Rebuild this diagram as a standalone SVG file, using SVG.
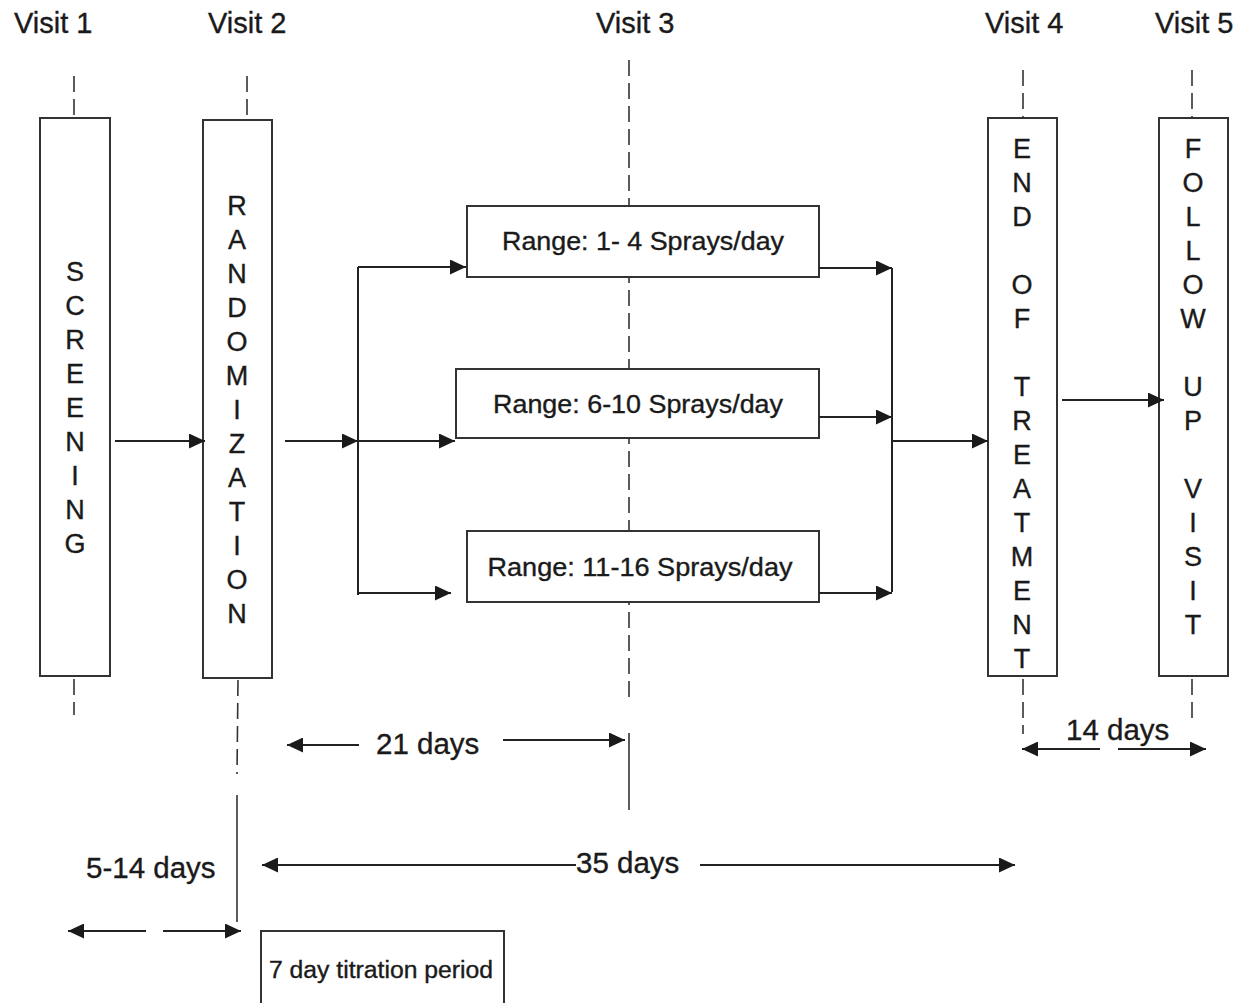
<svg xmlns="http://www.w3.org/2000/svg" width="1240" height="1003" viewBox="0 0 1240 1003">
<defs>
<marker id="ah" markerUnits="userSpaceOnUse" markerWidth="17" markerHeight="15" refX="16" refY="7.5" orient="auto">
<path d="M0,0 L16,7.5 L0,15 z" fill="#1a1a1a"/>
</marker>
<style>
text{font-family:"Liberation Sans",Arial,sans-serif;fill:#1a1a1a;stroke:#1a1a1a;stroke-width:0.35}
.visit{font-size:29px}
.vl{font-size:27px;text-anchor:middle}
.rng{font-size:25px;text-anchor:middle}
.dim{font-size:29.5px}
.box{fill:#fff;stroke:#333;stroke-width:2}
.dash{stroke:#333;stroke-width:1.6;stroke-dasharray:16 7;fill:none}
.solid{stroke:#333;stroke-width:1.6;fill:none}
.arr{stroke:#222;stroke-width:2.2;fill:none;marker-end:url(#ah)}
.ln{stroke:#222;stroke-width:2;fill:none}
</style>
</defs>
<rect width="1240" height="1003" fill="#fff"/>

<g id="visit-labels">
<text class="visit" x="14" y="33">Visit 1</text>
<text class="visit" x="208" y="33">Visit 2</text>
<text class="visit" x="596" y="33">Visit 3</text>
<text class="visit" x="985" y="33">Visit 4</text>
<text class="visit" x="1155" y="33">Visit 5</text>
</g>

<g id="timelines">
<line class="dash" x1="74" y1="76" x2="74" y2="117"/>
<line class="dash" x1="74" y1="679" x2="74" y2="715"/>
<line class="dash" x1="247" y1="76" x2="247" y2="119"/>
<line class="dash" x1="238" y1="680" x2="237" y2="774"/>
<line class="solid" x1="237" y1="795" x2="237" y2="922"/>
<line class="dash" x1="629" y1="60" x2="629" y2="700"/>
<line class="solid" x1="629" y1="733" x2="629" y2="810"/>
<line class="dash" x1="1023" y1="70" x2="1023" y2="117"/>
<line class="dash" x1="1023" y1="679" x2="1023" y2="734"/>
<line class="dash" x1="1192" y1="70" x2="1192" y2="117"/>
<line class="dash" x1="1192" y1="679" x2="1192" y2="724"/>
</g>

<g id="screening">
<rect class="box" x="40" y="118" width="70" height="558"/>
<text class="vl" x="75" y="281">S</text>
<text class="vl" x="75" y="315">C</text>
<text class="vl" x="75" y="349">R</text>
<text class="vl" x="75" y="383">E</text>
<text class="vl" x="75" y="417">E</text>
<text class="vl" x="75" y="451">N</text>
<text class="vl" x="75" y="485">I</text>
<text class="vl" x="75" y="519">N</text>
<text class="vl" x="75" y="553">G</text>
</g>

<g id="randomization">
<rect class="box" x="203" y="120" width="69" height="558"/>
<text class="vl" x="237" y="215">R</text>
<text class="vl" x="237" y="249">A</text>
<text class="vl" x="237" y="283">N</text>
<text class="vl" x="237" y="317">D</text>
<text class="vl" x="237" y="351">O</text>
<text class="vl" x="237" y="385">M</text>
<text class="vl" x="237" y="419">I</text>
<text class="vl" x="237" y="453">Z</text>
<text class="vl" x="237" y="487">A</text>
<text class="vl" x="237" y="521">T</text>
<text class="vl" x="237" y="555">I</text>
<text class="vl" x="237" y="589">O</text>
<text class="vl" x="237" y="623">N</text>
</g>

<g id="range-1-4">
<rect class="box" x="467" y="206" width="352" height="71"/>
<text class="rng" x="643" y="250" textLength="282" lengthAdjust="spacingAndGlyphs">Range: 1- 4 Sprays/day</text>
</g>
<g id="range-6-10">
<rect class="box" x="456" y="369" width="363" height="69"/>
<text class="rng" x="638" y="413" textLength="290" lengthAdjust="spacingAndGlyphs">Range: 6-10 Sprays/day</text>
</g>
<g id="range-11-16">
<rect class="box" x="467" y="531" width="352" height="71"/>
<text class="rng" x="640" y="576" textLength="305" lengthAdjust="spacingAndGlyphs">Range: 11-16 Sprays/day</text>
</g>

<g id="end-of-treatment">
<rect class="box" x="988" y="118" width="69" height="558"/>
<text class="vl" x="1022" y="158">E</text>
<text class="vl" x="1022" y="192">N</text>
<text class="vl" x="1022" y="226">D</text>
<text class="vl" x="1022" y="294">O</text>
<text class="vl" x="1022" y="328">F</text>
<text class="vl" x="1022" y="396">T</text>
<text class="vl" x="1022" y="430">R</text>
<text class="vl" x="1022" y="464">E</text>
<text class="vl" x="1022" y="498">A</text>
<text class="vl" x="1022" y="532">T</text>
<text class="vl" x="1022" y="566">M</text>
<text class="vl" x="1022" y="600">E</text>
<text class="vl" x="1022" y="634">N</text>
<text class="vl" x="1022" y="668">T</text>
</g>

<g id="follow-up-visit">
<rect class="box" x="1159" y="118" width="69" height="558"/>
<text class="vl" x="1193" y="158">F</text>
<text class="vl" x="1193" y="192">O</text>
<text class="vl" x="1193" y="226">L</text>
<text class="vl" x="1193" y="260">L</text>
<text class="vl" x="1193" y="294">O</text>
<text class="vl" x="1193" y="328">W</text>
<text class="vl" x="1193" y="396">U</text>
<text class="vl" x="1193" y="430">P</text>
<text class="vl" x="1193" y="498">V</text>
<text class="vl" x="1193" y="532">I</text>
<text class="vl" x="1193" y="566">S</text>
<text class="vl" x="1193" y="600">I</text>
<text class="vl" x="1193" y="634">T</text>
</g>

<g id="titration">
<path class="box" d="M261,1003 V931 H504 V1003"/>
<text x="269" y="978" font-size="23" textLength="224" lengthAdjust="spacingAndGlyphs">7 day titration period</text>
</g>

<g id="connectors">
<line class="arr" x1="115" y1="441" x2="205" y2="441"/>
<line class="arr" x1="285" y1="441" x2="358" y2="441"/>
<line class="ln" x1="358" y1="267" x2="358" y2="595"/>
<line class="arr" x1="358" y1="267" x2="466" y2="267"/>
<line class="arr" x1="358" y1="441" x2="455" y2="441"/>
<line class="arr" x1="358" y1="593" x2="451" y2="593"/>
<line class="arr" x1="819" y1="268" x2="892" y2="268"/>
<line class="arr" x1="819" y1="417" x2="892" y2="417"/>
<line class="arr" x1="819" y1="593" x2="892" y2="593"/>
<line class="ln" x1="892" y1="268" x2="892" y2="592"/>
<line class="arr" x1="892" y1="441" x2="988" y2="441"/>
<line class="arr" x1="1062" y1="400" x2="1164" y2="400"/>
</g>

<g id="durations">
<line class="arr" x1="359" y1="745" x2="287" y2="745"/>
<text class="dim" x="376" y="754">21 days</text>
<line class="arr" x1="503" y1="740" x2="625" y2="740"/>
<line class="arr" x1="576" y1="865" x2="262" y2="865"/>
<text class="dim" x="576" y="873">35 days</text>
<line class="arr" x1="700" y1="865" x2="1015" y2="865"/>
<text class="dim" x="86" y="878">5-14 days</text>
<line class="arr" x1="146" y1="931" x2="68" y2="931"/>
<line class="arr" x1="163" y1="931" x2="241" y2="931"/>
<text class="dim" x="1066" y="740">14 days</text>
<line class="arr" x1="1100" y1="749" x2="1022" y2="749"/>
<line class="arr" x1="1118" y1="749" x2="1206" y2="749"/>
</g>
</svg>
